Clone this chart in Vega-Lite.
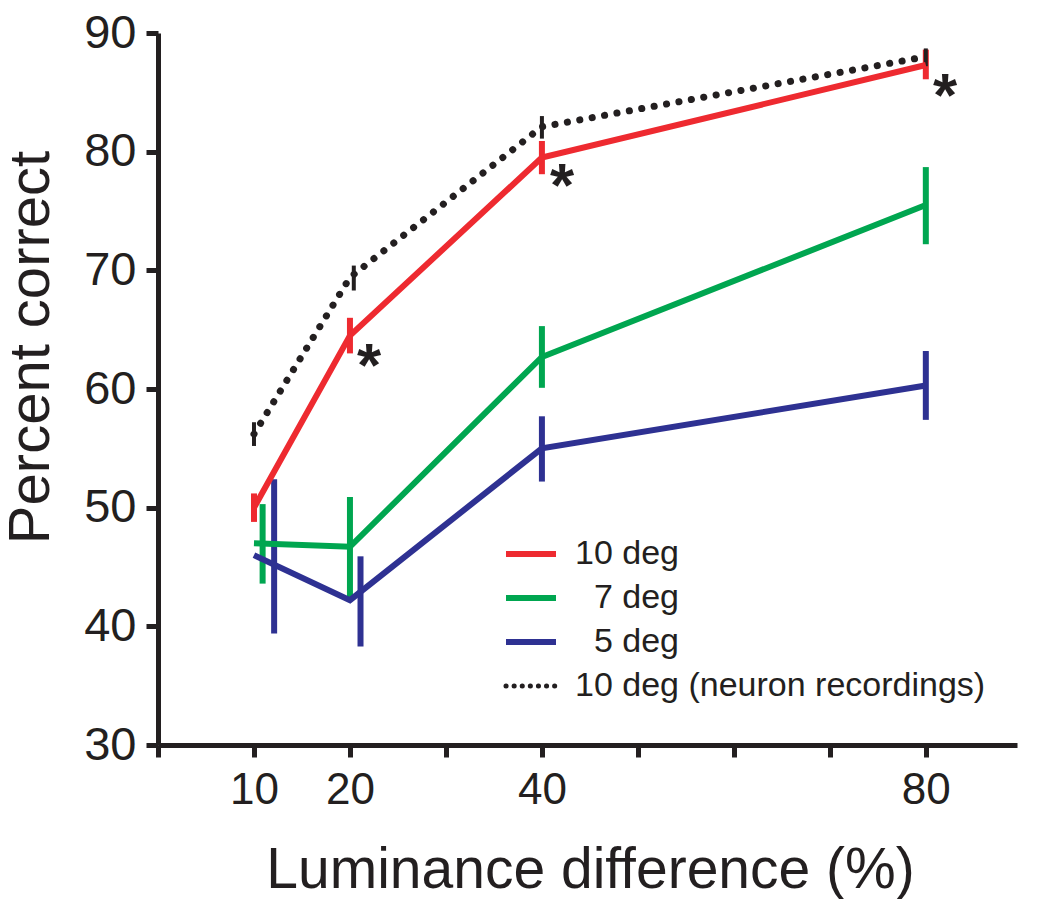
{
  "$schema": "https://vega.github.io/schema/vega-lite/v6.json",
  "width": 859,
  "height": 712,
  "autosize": {"type": "none"},
  "padding": {"left": 158, "top": 33, "right": 33, "bottom": 154},
  "background": "white",
  "config": {
    "view": {"stroke": null},
    "font": "Liberation Sans",
    "legend": {
      "orient": "none",
      "legendX": 356,
      "legendY": 504,
      "padding": 0,
      "symbolType": "stroke",
      "symbolSize": 2500,
      "symbolStrokeWidth": 6,
      "labelFontSize": 34,
      "labelFont": "Liberation Sans",
      "labelColor": "#231f20",
      "labelOffset": 27,
      "labelLimit": 600,
      "rowPadding": 10,
      "title": null
    }
  },
  "datasets": {
    "pts": [
      {"series": "10 deg", "x": 10, "y": 50.0, "lo": 48.8, "hi": 51.2, "xe": 10},
      {"series": "10 deg", "x": 20, "y": 64.5, "lo": 63.0, "hi": 66.0, "xe": 20},
      {"series": "10 deg", "x": 40, "y": 79.5, "lo": 78.1, "hi": 80.9, "xe": 40},
      {"series": "10 deg", "x": 80, "y": 87.3, "lo": 86.1, "hi": 88.6, "xe": 80},
      {"series": "\u200b\u20077 deg", "x": 10, "y": 47.0, "lo": 43.6, "hi": 50.3, "xe": 10.9},
      {"series": "\u200b\u20077 deg", "x": 20, "y": 46.7, "lo": 42.4, "hi": 50.9, "xe": 20},
      {"series": "\u200b\u20077 deg", "x": 40, "y": 62.7, "lo": 60.1, "hi": 65.3, "xe": 40},
      {"series": "\u200b\u20077 deg", "x": 80, "y": 75.5, "lo": 72.2, "hi": 78.7, "xe": 80},
      {"series": "\u200b\u20075 deg", "x": 10, "y": 46.0, "lo": 39.4, "hi": 52.4, "xe": 12.1},
      {"series": "\u200b\u20075 deg", "x": 20, "y": 42.2, "lo": 38.3, "hi": 45.9, "xe": 21.1},
      {"series": "\u200b\u20075 deg", "x": 40, "y": 55.0, "lo": 52.2, "hi": 57.7, "xe": 40},
      {"series": "\u200b\u20075 deg", "x": 80, "y": 60.3, "lo": 57.4, "hi": 63.2, "xe": 80},
      {"series": "10 deg (neuron recordings)", "x": 10, "y": 56.2, "lo": 55.2, "hi": 57.2, "xe": 10},
      {"series": "10 deg (neuron recordings)", "x": 20, "y": 69.4, "lo": 68.3, "hi": 70.4, "xe": 20.4},
      {"series": "10 deg (neuron recordings)", "x": 40, "y": 82.1, "lo": 81.1, "hi": 83.0, "xe": 40},
      {"series": "10 deg (neuron recordings)", "x": 80, "y": 88.0, "lo": 87.2, "hi": 88.7, "xe": 80}
    ],
    "stars": [
      {"x": 22.0, "y": 62.5, "label": "*"},
      {"x": 42.1, "y": 77.7, "label": "*"},
      {"x": 82.0, "y": 85.3, "label": "*"}
    ]
  },
  "layer": [
    {
      "data": {"name": "pts"},
      "transform": [{"filter": "datum.series !== '10 deg (neuron recordings)'"}],
      "mark": {"type": "rule", "strokeWidth": 6, "strokeCap": "butt"},
      "encoding": {
        "x": {"field": "xe", "type": "quantitative", "scale": {"domain": [0, 89.5], "nice": false, "zero": false},
          "axis": {
            "values": [0, 10, 20, 30, 40, 50, 60, 70, 80],
            "labelExpr": "(datum.value==10||datum.value==20||datum.value==40||datum.value==80) ? datum.label : ''",
            "grid": false,
            "domainWidth": 5, "domainColor": "#231f20",
            "tickWidth": 5, "tickSize": 12, "tickColor": "#231f20",
            "labelFont": "Liberation Sans", "labelFontSize": 44, "labelColor": "#231f20", "labelPadding": 11,
            "title": "Luminance difference (%)",
            "titleFont": "Liberation Sans", "titleFontSize": 57, "titleFontWeight": "normal", "titleColor": "#231f20",
            "titleX": 432, "titleY": 142, "titleBaseline": "alphabetic", "titleAlign": "center"
          }},
        "y": {"field": "lo", "type": "quantitative", "scale": {"domain": [30, 90], "nice": false, "zero": false},
          "axis": {
            "values": [30, 40, 50, 60, 70, 80, 90],
            "grid": false,
            "domainWidth": 5, "domainColor": "#231f20",
            "tickWidth": 5, "tickSize": 12, "tickColor": "#231f20",
            "labelFont": "Liberation Sans", "labelFontSize": 47, "labelColor": "#231f20", "labelPadding": 10,
            "title": "Percent correct",
            "titleFont": "Liberation Sans", "titleFontSize": 58, "titleFontWeight": "normal", "titleColor": "#231f20",
            "titleAngle": -90, "titleX": -110, "titleY": 314, "titleBaseline": "alphabetic", "titleAlign": "center"
          }},
        "y2": {"field": "hi"},
        "color": {"field": "series", "type": "nominal",
          "scale": {"domain": ["10 deg", "\u200b\u20077 deg", "\u200b\u20075 deg", "10 deg (neuron recordings)"],
                    "range": ["#ee2a30", "#00a650", "#2e3192", "#231f20"]},
          "legend": {
            "encode": {
              "symbols": {
                "update": {
                  "strokeDash": {"signal": "datum.value === '10 deg (neuron recordings)' ? [0.1, 8] : [1, 0]"},
                  "strokeCap": {"signal": "datum.value === '10 deg (neuron recordings)' ? 'round' : 'butt'"},
                  "strokeWidth": {"signal": "datum.value === '10 deg (neuron recordings)' ? 5 : 6"}
                }
              }
            }
          }}
      }
    },
    {
      "data": {"name": "pts"},
      "transform": [{"filter": "datum.series === '10 deg (neuron recordings)'"}],
      "mark": {"type": "rule", "strokeWidth": 4, "strokeCap": "butt"},
      "encoding": {
        "x": {"field": "xe", "type": "quantitative"},
        "y": {"field": "lo", "type": "quantitative"},
        "y2": {"field": "hi"},
        "color": {"field": "series", "type": "nominal"}
      }
    },
    {
      "data": {"name": "pts"},
      "transform": [{"filter": "datum.series !== '10 deg (neuron recordings)'"}],
      "mark": {"type": "line", "strokeWidth": 6, "strokeCap": "butt", "strokeJoin": "miter"},
      "encoding": {
        "x": {"field": "x", "type": "quantitative"},
        "y": {"field": "y", "type": "quantitative"},
        "color": {"field": "series", "type": "nominal"},
        "detail": {"field": "series"}
      }
    },
    {
      "data": {"name": "pts"},
      "transform": [{"filter": "datum.series === '10 deg (neuron recordings)'"}],
      "mark": {"type": "line", "strokeWidth": 7, "strokeCap": "round", "strokeDash": [0.1, 12.5]},
      "encoding": {
        "x": {"field": "x", "type": "quantitative"},
        "y": {"field": "y", "type": "quantitative"},
        "color": {"field": "series", "type": "nominal"}
      }
    },
    {
      "data": {"name": "stars"},
      "mark": {"type": "text", "font": "Liberation Sans", "fontWeight": "bold", "fontSize": 62, "color": "#231f20", "baseline": "alphabetic", "align": "center", "dy": 27},
      "encoding": {
        "x": {"field": "x", "type": "quantitative"},
        "y": {"field": "y", "type": "quantitative"},
        "text": {"field": "label"}
      }
    }
  ]
}
